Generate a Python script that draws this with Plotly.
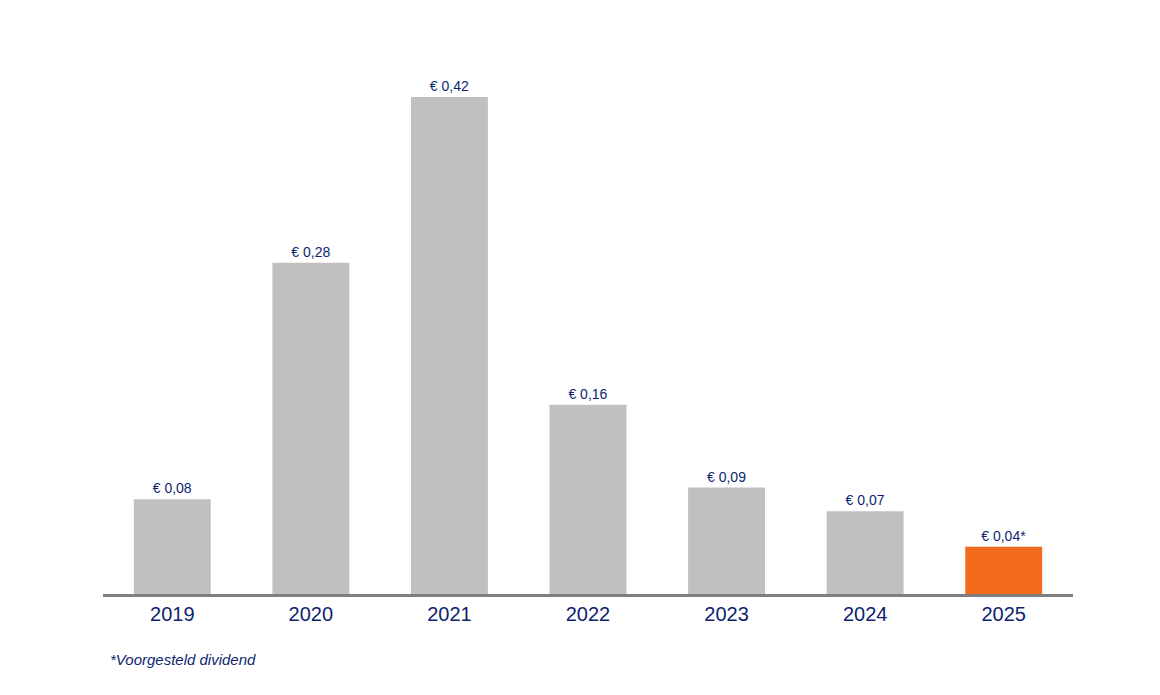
import plotly.graph_objects as go

years = ["2019", "2020", "2021", "2022", "2023", "2024", "2025"]
dividends = [0.08, 0.28, 0.42, 0.16, 0.09, 0.07, 0.04]
labels = ["€ 0,08", "€ 0,28", "€ 0,42", "€ 0,16", "€ 0,09", "€ 0,07", "€ 0,04*"]
colors = ["#c0c0c0"] * 6 + ["#f26b1d"]

navy = "#0d1f6e"
fig = go.Figure(go.Bar(
    x=years, y=dividends, text=labels, textposition="outside",
    marker=dict(color=colors, line=dict(width=0)), width=0.555,
    textfont=dict(color=navy, size=14, family="Liberation Sans"),
    cliponaxis=False,
))
fig.update_layout(
    width=1160, height=695,
    margin=dict(l=95, r=95, t=60, b=109),
    plot_bgcolor="white", paper_bgcolor="white",
    showlegend=False,
    yaxis=dict(range=[0, 0.4446], visible=False, showgrid=False),
    xaxis=dict(showline=True, linecolor="#7f7f7f", linewidth=3, ticks="",
               tickfont=dict(color=navy, size=20, family="Liberation Sans")),
    annotations=[dict(text="<i>*Voorgesteld dividend</i>", xref="paper", yref="paper",
                      x=0.005, y=-0.125, xanchor="left", yanchor="middle", showarrow=False,
                      font=dict(color=navy, size=15, family="Liberation Sans"))],
)
fig.write_html("out.html")
